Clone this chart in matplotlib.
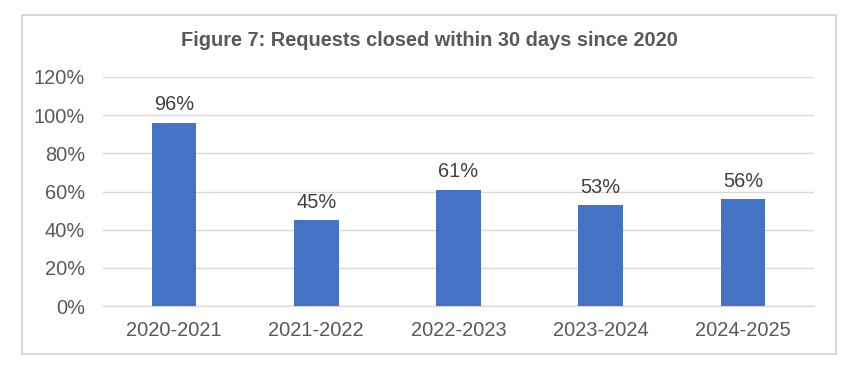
import matplotlib
matplotlib.use("Agg")
import matplotlib.pyplot as plt
from matplotlib.patches import Rectangle

categories = ["2020-2021", "2021-2022", "2022-2023", "2023-2024", "2024-2025"]
values = [0.96, 0.45, 0.61, 0.53, 0.56]
yticks = [0, 0.2, 0.4, 0.6, 0.8, 1.0, 1.2]
ytick_labels = ["0%", "20%", "40%", "60%", "80%", "100%", "120%"]
title = "Figure 7: Requests closed within 30 days since 2020"

plt.rcParams['font.family'] = ['Liberation Sans', 'DejaVu Sans']

W, H = 860, 374
fig = plt.figure(figsize=(W / 100, H / 100), dpi=100)
fig.patch.set_facecolor("white")

# chart border
fig.patches.append(Rectangle((22 / W, 1 - 354 / H), (836 - 22) / W, (354 - 15) / H,
                             transform=fig.transFigure, fill=False,
                             edgecolor="#d9d9d9", linewidth=1.5))

ax = fig.add_axes([103 / W, 1 - 306 / H, (814 - 103) / W, (306 - 77) / H])
x = list(range(len(categories)))
ax.bar(x, values, width=0.315, color="#4472C4", zorder=3)
ax.set_xlim(-0.5, len(categories) - 0.5)
ax.set_ylim(0, 1.2)
ax.set_yticks(yticks)
ax.set_yticklabels(ytick_labels)
ax.set_xticks(x)
ax.set_xticklabels(categories)
ax.tick_params(axis="both", length=0, labelsize=14.4, colors="#595959")
ax.tick_params(axis="y", pad=13)
ax.tick_params(axis="x", pad=11)
ax.grid(axis="y", color="#d9d9d9", linewidth=1, zorder=0)
for s in ["top", "right", "left"]:
    ax.spines[s].set_visible(False)
ax.spines["bottom"].set_color("#d9d9d9")
ax.spines["bottom"].set_linewidth(1)

for xi, v in zip(x, values):
    ax.annotate(f"{round(v * 100)}%", (xi, v), xytext=(0, 6), textcoords="offset points",
                ha="center", va="bottom", fontsize=14.4, color="#404040")

fig.text((22 + 836) / 2 / W, 1 - 41 / H, title, ha="center", va="center",
         fontsize=14.4, fontweight="bold", color="#595959")

fig.savefig("out.png", dpi=100, facecolor="white")
